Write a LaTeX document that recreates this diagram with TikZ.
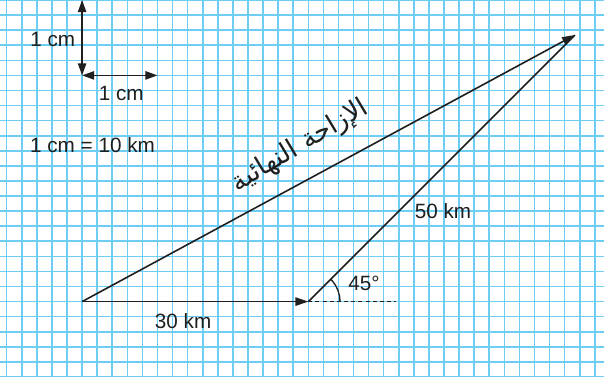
\documentclass[tikz,border=0pt]{standalone}
\usepackage{fontspec}
\setmainfont{Liberation Sans}
\newfontfamily\arabicfont[Script=Arabic]{DejaVu Sans}
\TeXXeTstate=1
\usepackage{xcolor}
\definecolor{gridblue}{HTML}{6ECDF5}
\definecolor{inkgray}{HTML}{1F1F1F}
\usetikzlibrary{arrows.meta, calc}
\tikzset{
  gridln/.style ={draw=gridblue, line width=0.6pt},
  varr/.style   ={-{Triangle[length=1.7mm, width=1.1mm]}, line width=0.6pt, color=inkgray},
  sarr/.style   ={{Triangle[length=1.6mm, width=1.1mm]}-{Triangle[length=1.6mm, width=1.1mm]}, line width=0.6pt, color=inkgray},
  vlbl/.style   ={font=\fontsize{7.8}{9}\selectfont, text=inkgray, inner sep=1pt},
  dashln/.style ={line width=0.6pt, color=inkgray, dash pattern=on 1.5pt off 1.2pt},
}

\begin{document}
\begin{tikzpicture}[x=0.2cm, y=0.2cm]
  \useasboundingbox (-0.444,0) rectangle (39.61,25);
  \fill[white] (-0.444,0) rectangle (39.61,25);
  % grid
  \foreach \i in {0,...,39} {\draw[gridln] (\i,0) -- (\i,25);}
  \foreach \j in {0,...,25} {\draw[gridln] (-0.444,\j) -- (39.61,\j);}
  % scale
  \coordinate (s0) at (5,20);
  \coordinate (sN) at (5,25);
  \coordinate (sE) at (10,20);
  \draw[sarr] (sN) -- (s0);
  \draw[sarr] (s0) -- (sE);
  \node[vlbl] (sv) at (3.05,22.35) {1 cm};
  \node[vlbl] (sh) at (7.6,18.8) {1 cm};
  \node[vlbl] (sk) at (5.69,15.4) {1 cm = 10 km};
  % vectors
  \coordinate (A) at (5,5);
  \coordinate (B) at (20,5);
  \coordinate (C) at ($(B)+(45:25)$);
  \coordinate (D) at (25.8,5);
  \draw[varr] (A) -- (B);
  \draw[line width=0.6pt, color=inkgray] (B) -- (C);
  \draw[varr] (A) -- (C);
  \draw[dashln] (B) -- (D);
  \draw[line width=0.5pt, color=inkgray] ($(B)+(2.1,0)$) arc[start angle=0, end angle=45, radius=2.1];
  \node[vlbl] (ang) at (23.7,6.23) {45°};
  \node[vlbl] (d1) at (11.7,3.71) {30 km};
  \node[vlbl] (d2) at (28.93,11.0) {50 km};
  \node[vlbl, rotate=31, font=\fontsize{10}{12}\selectfont] (res) at (19.45,15.3) {\arabicfont\beginR الإزاحة النهائية\endR};
\end{tikzpicture}
\end{document}
